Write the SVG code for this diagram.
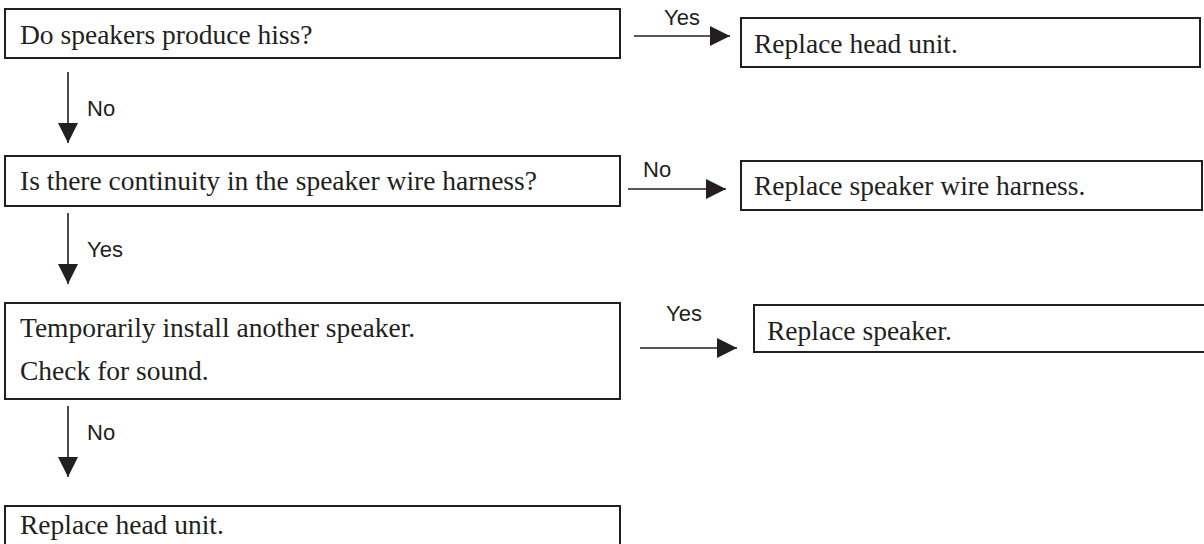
<svg xmlns="http://www.w3.org/2000/svg" width="1204" height="544" viewBox="0 0 1204 544">
  <style>
    .box { fill: #ffffff; stroke: #231f20; stroke-width: 2; }
    .t { font-family: "Liberation Serif", "Times New Roman", serif; font-size: 27.5px; fill: #231f20; }
    .lbl { font-family: "Liberation Sans", Arial, sans-serif; font-size: 22px; fill: #231f20; }
    .conn { stroke: #231f20; stroke-width: 1.6; fill: none; marker-end: url(#arrow); }
  </style>
  <defs>
    <marker id="arrow" viewBox="0 0 20 20" refX="20" refY="10" markerWidth="20" markerHeight="20" markerUnits="userSpaceOnUse" orient="auto">
      <path d="M0,0 L20,10 L0,20 z" fill="#231f20"/>
    </marker>
  </defs>
  <rect width="1204" height="544" fill="#ffffff"/>

  <g id="n1">
    <rect class="box" x="5" y="9" width="615" height="49"/>
    <text class="t" x="20" y="44">Do speakers produce hiss?</text>
  </g>
  <g id="n2">
    <rect class="box" x="741" y="18" width="459" height="49"/>
    <text class="t" x="754" y="53">Replace head unit.</text>
  </g>
  <g id="n3">
    <rect class="box" x="5" y="156" width="615" height="50"/>
    <text class="t" x="20" y="190">Is there continuity in the speaker wire harness?</text>
  </g>
  <g id="n4">
    <rect class="box" x="741" y="161" width="461" height="49"/>
    <text class="t" x="754" y="195">Replace speaker wire harness.</text>
  </g>
  <g id="n5">
    <rect class="box" x="5" y="303" width="615" height="96"/>
    <text class="t" x="20" y="337">Temporarily install another speaker.</text>
    <text class="t" x="20" y="380">Check for sound.</text>
  </g>
  <g id="n6">
    <rect class="box" x="754" y="305" width="460" height="47"/>
    <text class="t" x="767" y="340">Replace speaker.</text>
  </g>
  <g id="n7">
    <rect class="box" x="5" y="506" width="615" height="46"/>
    <text class="t" x="20" y="534">Replace head unit.</text>
  </g>

  <g id="connectors">
    <line class="conn" x1="634" y1="36" x2="730" y2="36"/>
    <text class="lbl" x="682" y="25" text-anchor="middle">Yes</text>
    <line class="conn" x1="68" y1="72" x2="68" y2="143"/>
    <text class="lbl" x="87" y="116">No</text>
    <line class="conn" x1="628" y1="189" x2="726" y2="189"/>
    <text class="lbl" x="643" y="177">No</text>
    <line class="conn" x1="68" y1="213" x2="68" y2="284"/>
    <text class="lbl" x="87" y="257">Yes</text>
    <line class="conn" x1="640" y1="348" x2="737" y2="348"/>
    <text class="lbl" x="666" y="321">Yes</text>
    <line class="conn" x1="68" y1="406" x2="68" y2="477"/>
    <text class="lbl" x="87" y="440">No</text>
  </g>
</svg>
